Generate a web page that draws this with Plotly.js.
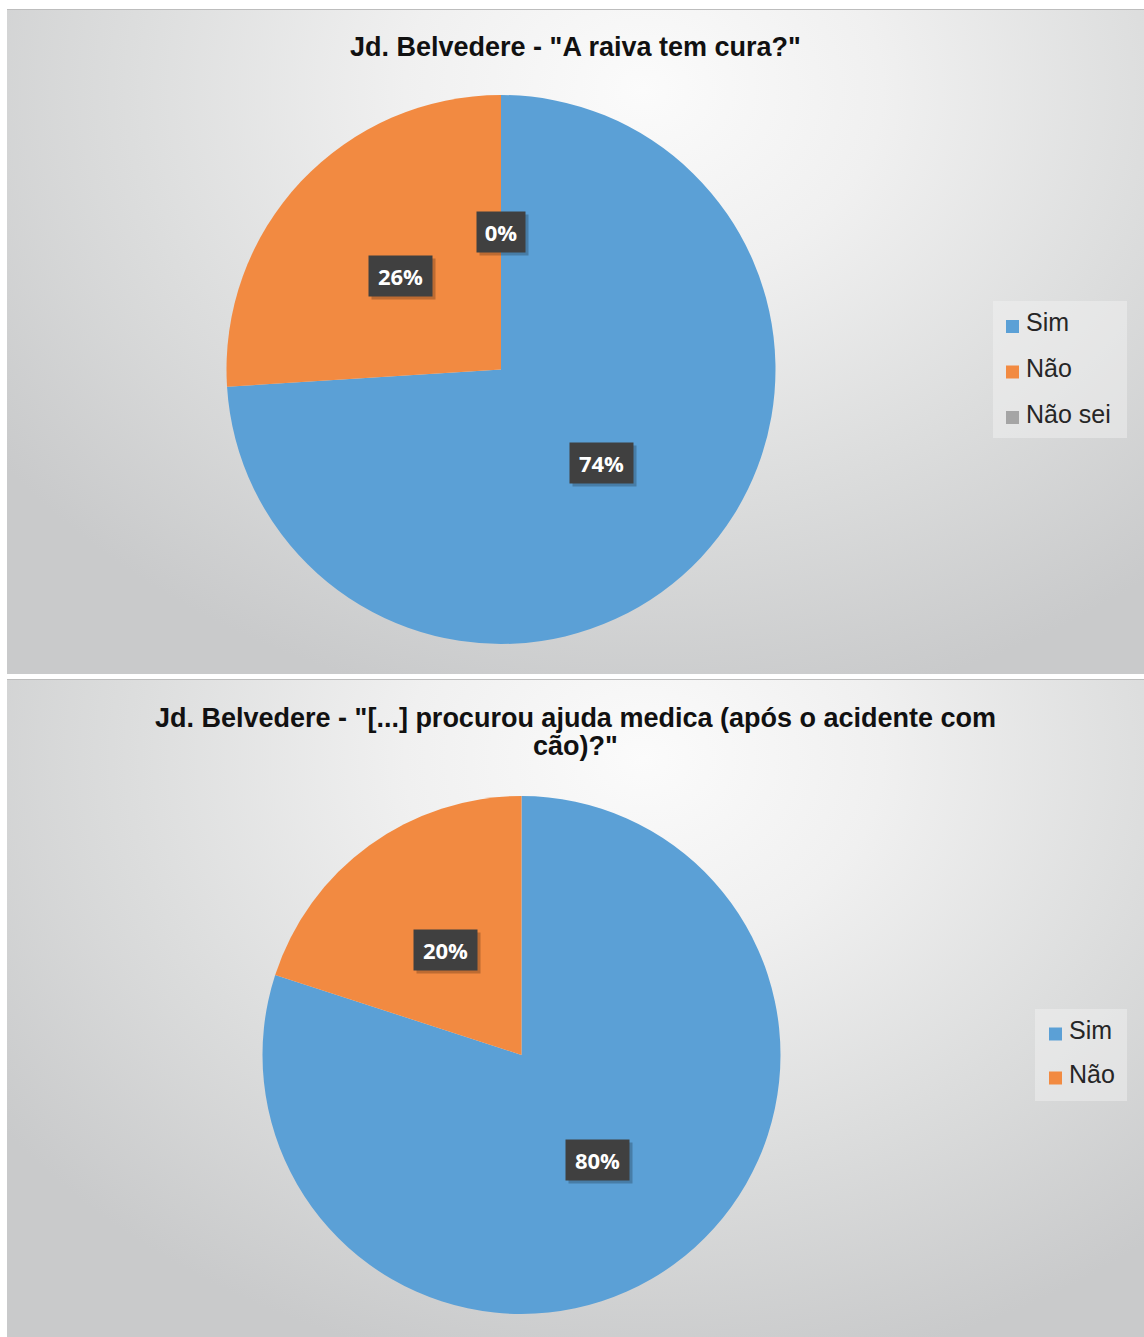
<!DOCTYPE html>
<html>
<head>
<meta charset="utf-8">
<script src="https://cdn.plot.ly/plotly-3.0.1.min.js"></script>
<style>
  html, body { margin: 0; padding: 0; background: #ffffff; }
  body { width: 1144px; height: 1337px; position: relative; overflow: hidden; }
  .panel {
    position: absolute; left: 7px; width: 1137px;
    background: radial-gradient(ellipse 70% 95% at 56% 12%, #fbfbfb 0%, #f0f0f0 30%, #dcdddd 65%, #c9cacb 100%);
    border-top: 1px solid #bdbdbd;
    box-sizing: border-box;
  }
  #raiva { top: 9px; height: 665px; }
  #ajuda { top: 679px; height: 658px; }
</style>
</head>
<body>
<div id="raiva" class="panel"></div>
<div id="ajuda" class="panel"></div>
<script>
// Question 1: "A raiva tem cura?"
const raivaTitleLines = ['Jd. Belvedere - "A raiva tem cura?"'];
const raivaLabels = ['Sim', 'Não', 'Não sei'];
const raivaValues = [74, 26, 0];

// Question 2: "[...] procurou ajuda medica?"
const ajudaTitleLines = ['Jd. Belvedere - "[...] procurou ajuda medica (após o acidente com', 'cão)?"'];
const ajudaLabels = ['Sim', 'Não'];
const ajudaValues = [80, 20];

const sliceColors = ['#5ba0d6', '#f28a41', '#a5a5a5'];

function buildChart(divId, cfg) {
  const W = cfg.width, H = cfg.height;
  const total = cfg.values.reduce((a, b) => a + b, 0);

  // Pie center / radius in pixels, from the domain
  const cx = (cfg.domain.x[0] + cfg.domain.x[1]) / 2 * W;
  const cyUp = (cfg.domain.y[0] + cfg.domain.y[1]) / 2 * H;
  const r = Math.min((cfg.domain.x[1] - cfg.domain.x[0]) * W,
                     (cfg.domain.y[1] - cfg.domain.y[0]) * H) / 2;

  const trace = {
    type: 'pie',
    labels: cfg.labels,
    values: cfg.values,
    sort: false,
    direction: 'clockwise',
    rotation: 0,
    textinfo: 'none',
    hoverinfo: 'label+percent',
    marker: { colors: sliceColors.slice(0, cfg.labels.length), line: { width: 0 } },
    domain: cfg.domain,
    showlegend: false
  };

  const annotations = [];
  const shapes = [];

  // Percentage labels: dark boxes at half radius on each slice's mid-angle
  let cum = 0;
  cfg.values.forEach((v) => {
    const mid = (cum + v / 2) / total;
    cum += v;
    const th = mid * 2 * Math.PI;
    const px = cx + 0.5 * r * Math.sin(th);
    const py = cyUp + 0.5 * r * Math.cos(th);
    const txt = Math.round(v / total * 100) + '%';
    const bw = 18 + 15 * txt.length;
    const common = {
      x: px / W, y: py / H, xref: 'paper', yref: 'paper',
      showarrow: false, width: bw, height: 40, borderpad: 0,
      xanchor: 'center', yanchor: 'middle'
    };
    annotations.push(Object.assign({}, common, {
      text: ' ', bgcolor: 'rgba(0,0,0,0.22)', xshift: 3, yshift: -3
    }));
    annotations.push(Object.assign({}, common, {
      text: '<b>' + txt + '</b>', bgcolor: '#404040',
      font: { family: 'Open Sans, sans-serif', size: 22, color: '#ffffff' }
    }));
  });

  // Legend box with square swatches
  const lg = cfg.legend;
  shapes.push({
    type: 'rect', xref: 'paper', yref: 'paper', layer: 'below',
    x0: lg.x0 / W, x1: lg.x1 / W, y0: 1 - lg.y1 / H, y1: 1 - lg.y0 / H,
    fillcolor: 'rgba(245,245,245,0.45)', line: { width: 0 }
  });
  cfg.labels.forEach((lab, i) => {
    const yc = lg.firstRow + i * lg.step;
    shapes.push({
      type: 'rect', xref: 'paper', yref: 'paper',
      x0: lg.sq / W, x1: (lg.sq + 13) / W,
      y0: 1 - (yc + 6.5) / H, y1: 1 - (yc - 6.5) / H,
      fillcolor: sliceColors[i], line: { width: 0 }
    });
    annotations.push({
      x: (lg.sq + 18) / W, y: 1 - yc / H, xref: 'paper', yref: 'paper', yshift: 4,
      text: lab, showarrow: false, xanchor: 'left', yanchor: 'middle',
      font: { family: 'Liberation Sans, Arial, sans-serif', size: 25, color: '#262626' }
    });
  });

  // Title lines
  const titleFont = { family: 'Liberation Sans, Arial, sans-serif', size: 27, color: '#111111' };
  cfg.titleLines.forEach((line, i) => {
    annotations.push({
      x: 0.5, y: 1 - (cfg.titleY + i * 28) / H, xref: 'paper', yref: 'paper',
      text: '<b>' + line + '</b>', showarrow: false,
      xanchor: 'center', yanchor: 'middle', font: titleFont
    });
  });

  const layout = {
    width: W, height: H,
    margin: { l: 0, r: 0, t: 0, b: 0 },
    paper_bgcolor: 'rgba(0,0,0,0)',
    plot_bgcolor: 'rgba(0,0,0,0)',
    annotations: annotations,
    shapes: shapes
  };

  Plotly.newPlot(divId, [trace], layout, { displayModeBar: false, staticPlot: true });
}

buildChart('raiva', {
  width: 1137, height: 665,
  titleLines: raivaTitleLines, titleY: 37,
  labels: raivaLabels, values: raivaValues,
  domain: { x: [0.19305, 0.67590], y: [0.04662, 0.87218] },
  legend: { x0: 986, x1: 1120, y0: 291, y1: 428, sq: 999, firstRow: 316.5, step: 45.5 }
});

buildChart('ajuda', {
  width: 1137, height: 658,
  titleLines: ajudaTitleLines, titleY: 38,
  labels: ajudaLabels, values: ajudaValues,
  domain: { x: [0.22471, 0.68030], y: [0.03647, 0.82371] },
  legend: { x0: 1028, x1: 1120, y0: 329, y1: 421, sq: 1042, firstRow: 354, step: 44 }
});
</script>
</body>
</html>
